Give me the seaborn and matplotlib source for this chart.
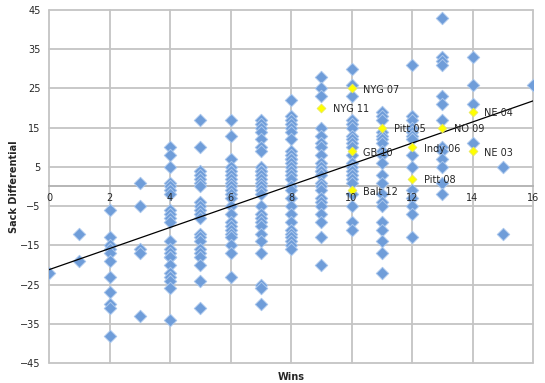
import numpy as np
import pandas as pd
import matplotlib
matplotlib.use("Agg")
import matplotlib.pyplot as plt
import seaborn as sns

# sack differential of every team season, grouped by wins
s0 = [-22]
s1 = [-12, -19]
s2 = [-6, -13, -15, -16, -17, -19, -23, -27, -30, -31, -38]
s3 = [1, -5, -16, -17, -33]
s4 = [10, 8, 5, 1, 0, -1, -2, -6, -7, -8, -9, -14, -16, -17, -18, -18, -20, -22, -23, -24, -26, -34]
s5 = [17, 10, 4, 3, 2, 1, 0, -4, -5, -6, -7, -8, -12, -13, -14, -16, -17, -18, -20, -24, -31]
s6 = [17, 13, 7, 5, 4, 3, 2, 1, 0, -1, -2, -3, -5, -7, -9, -10, -11, -12, -13, -15, -17, -23]
s7 = [17, 16, 15, 14, 12, 10, 9, 5, 4, 4, 3, 2, 1, 0, -1, -2, -5, -7, -8, -9, -10, -12, -14, -17, -25, -26, -30]
s8 = [22, 18, 17, 16, 15, 14, 12, 9, 8, 7, 7, 6, 5, 4, 3, 2, 0, -1, -3, -5, -7, -9, -11, -12, -13, -14, -15, -16]
s9 = [28, 25, 23, 15, 13, 11, 10, 8, 6, 5, 4, 4, 3, 1, 0, -1, -3, -4, -5, -7, -9, -13, -20]
s10 = [30, 26, 23, 17, 16, 15, 13, 12, 11, 10, 8, 6, 5, 4, 3, 2, 1, -2, -5, -9, -11]
s11 = [19, 18, 17, 14, 13, 12, 11, 9, 8, 6, 3, 1, -2, -4, -5, -9, -11, -14, -17, -22]
s12 = [31, 18, 17, 15, 14, 13, 12, 8, 5, -1, -3, -5, -7, -13]
s13 = [43, 33, 32, 31, 23, 21, 17, 10, 9, 7, 5, 1, -2]
s14 = [33, 26, 21, 11]
s15 = [5, -12]
s16 = [26]

# highlighted teams
label_names = ["NYG 07", "NYG 11", "Pitt 05", "NO 09", "NE 04", "GB 10", "Indy 06", "NE 03", "Pitt 08", "Balt 12"]
label_wins = [10, 9, 11, 13, 14, 10, 12, 14, 12, 10]
label_sacks = [25, 20, 15, 15, 19, 9, 10, 9, 2, -1]

x_ticks = list(range(0, 17, 2))
y_ticks = list(range(-45, 46, 10))

columns = [s0, s1, s2, s3, s4, s5, s6, s7, s8, s9, s10, s11, s12, s13, s14, s15, s16]
rows = []
for w, col in enumerate(columns):
    for s in col:
        rows.append((w, s))
df = pd.DataFrame(rows, columns=["Wins", "Sack Differential"])
hl = pd.DataFrame({"Wins": label_wins, "Sack Differential": label_sacks, "Team": label_names})
all_df = pd.concat([df, hl[["Wins", "Sack Differential"]]], ignore_index=True)

sns.set_style("white")
plt.rcParams["font.family"] = ["DejaVu Sans"]

fig = plt.figure(figsize=(5.45, 3.83), dpi=100)
ax = fig.add_axes([49 / 545, 20 / 383, 484 / 545, 353 / 383])

grid_c = "#C4C4C4"
for xv in x_ticks:
    ax.axvline(xv, color=grid_c, lw=1.3, zorder=0.5, clip_on=False)
for yv in y_ticks:
    ax.axhline(yv, color=grid_c, lw=1.3, zorder=0.5, clip_on=False)

sns.scatterplot(data=df, x="Wins", y="Sack Differential", marker="D", s=40,
                color="#6F9DD9", edgecolor="#A9C6EC", linewidth=0.7, zorder=3, ax=ax)
sns.regplot(data=all_df, x="Wins", y="Sack Differential", scatter=False, ci=None,
            truncate=True, line_kws={"color": "black", "lw": 0.9, "zorder": 4}, ax=ax)
sns.scatterplot(data=hl, x="Wins", y="Sack Differential", marker="D", s=20,
                color="#FFFF00", edgecolor="#E8E860", linewidth=0.6, zorder=5, ax=ax)

for name, w, s in zip(label_names, label_wins, label_sacks):
    ax.annotate(name, (w, s), xytext=(8.5, -1), textcoords="offset points",
                va="center", ha="left", fontsize=7, zorder=6)

ax.set_xlim(0, 16)
ax.set_ylim(-45, 45)
ax.set_xticks(x_ticks)
ax.set_yticks(y_ticks)
ax.grid(False)

for side in ["left", "right", "top"]:
    ax.spines[side].set_visible(False)
ax.spines["bottom"].set_position(("data", 0))
ax.spines["bottom"].set_color("#B0B0B0")
ax.spines["bottom"].set_linewidth(1.3)
ax.spines["bottom"].set_zorder(0.6)
ax.xaxis.set_zorder(6)

ax.tick_params(axis="both", length=0, labelsize=7)
ax.tick_params(axis="x", pad=5)
ax.tick_params(axis="y", pad=6)

ax.set_xlabel("Wins", fontsize=7, fontweight="bold")
ax.set_ylabel("Sack Differential", fontsize=7, fontweight="bold")
ax.xaxis.set_label_coords(0.5, -0.025)
ax.yaxis.set_label_coords(-0.062, 0.5)

fig.savefig("out.png", dpi=100)
